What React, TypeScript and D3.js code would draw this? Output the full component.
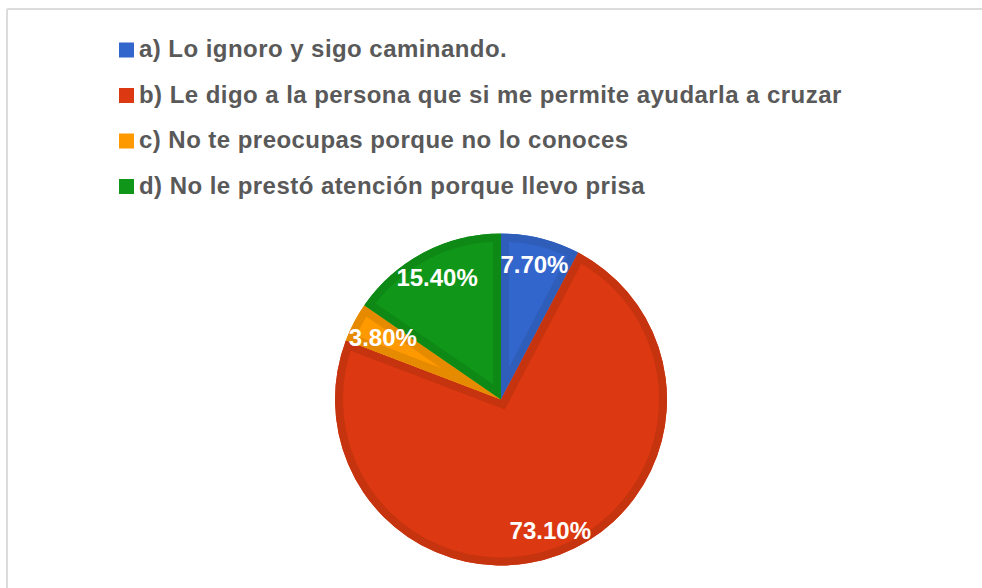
import React from "react";
import * as d3 from "d3";

const labels = [
  "a) Lo ignoro y sigo caminando.",
  "b) Le digo a la persona que si me permite ayudarla a cruzar",
  "c) No te preocupas porque no lo conoces",
  "d) No le prestó atención porque llevo prisa",
];
const values = [7.7, 73.1, 3.8, 15.4];
const fills = ["#3366cc", "#dc3912", "#ff9900", "#109618"];
const borders = ["#2f5eba", "#c6330f", "#e68a00", "#0e8916"];

const width = 982;
const height = 588;
const cx = 501;
const cy = 399.5;
const radius = 166;
const border = 8;
const labelSize = 24;

// rough Arial-bold advance widths, enough to keep a label inside the pie
const glyphW = (c: string) => (c === "." ? 0.278 : c === "%" ? 0.889 : 0.556);
const textW = (s: string) => s.split("").reduce((acc, c) => acc + glyphW(c), 0) * labelSize;

export default function App() {
  const pie = d3.pie<number>().sort(null).value((d) => d);
  const arcs = pie(values);
  const arc = d3.arc<d3.PieArcDatum<number>>().innerRadius(0).outerRadius(radius);

  const legendY = d3.scalePoint<number>().domain(d3.range(labels.length)).range([50, 186.5]);

  const labelPos = (a: d3.PieArcDatum<number>, s: string) => {
    const mid = (a.startAngle + a.endAngle) / 2;
    const w = textW(s) / 2;
    const h = labelSize * 0.36;
    let r = radius * 0.84;
    for (; r > 0; r -= 1) {
      const x = Math.sin(mid) * r;
      const y = -Math.cos(mid) * r;
      const ok = [[-w, -h], [w, -h], [-w, h], [w, h]].every(
        ([dx, dy]) => Math.hypot(x + dx, y + dy) <= radius + 2
      );
      if (ok) break;
    }
    return [Math.sin(mid) * r, -Math.cos(mid) * r];
  };

  return (
    <svg
      width={width}
      height={height}
      style={{ position: "absolute", left: 0, top: 0, background: "#fff" }}
      fontFamily="'Liberation Sans', Arial, sans-serif"
    >
      <rect x={0} y={0} width={width} height={height} fill="#fff" />
      {/* frame */}
      <line x1={7} y1={9} x2={width} y2={9} stroke="#dcdcdc" strokeWidth={2} />
      <line x1={7} y1={9} x2={7} y2={height} stroke="#dcdcdc" strokeWidth={2} />

      {/* legend */}
      {labels.map((t, i) => (
        <g key={i} transform={`translate(119,${legendY(i)})`}>
          <rect x={0} y={-7.5} width={15} height={15} fill={fills[i]} />
          <text x={20} y={7} fontSize={24} fontWeight="bold" fill="#595959" letterSpacing={0.45}>
            {t}
          </text>
        </g>
      ))}

      {/* pie */}
      <defs>
        {arcs.map((a, i) => (
          <clipPath key={i} id={`clip${i}`}>
            <path d={arc(a) || ""} />
          </clipPath>
        ))}
      </defs>
      <g transform={`translate(${cx},${cy})`}>
        {arcs.map((a, i) => (
          <g key={i}>
            <path d={arc(a) || ""} fill={fills[i]} />
            <path
              d={arc(a) || ""}
              fill="none"
              stroke={borders[i]}
              strokeWidth={border * 2}
              clipPath={`url(#clip${i})`}
            />
          </g>
        ))}
        {arcs.map((a, i) => {
          const s = d3.format(".2f")(a.data) + "%";
          const [x, y] = labelPos(a, s);
          return (
            <text
              key={i}
              x={x}
              y={y}
              dy="0.36em"
              textAnchor="middle"
              fontSize={labelSize}
              fontWeight="bold"
              fill="#fff"
            >
              {s}
            </text>
          );
        })}
      </g>
    </svg>
  );
}
